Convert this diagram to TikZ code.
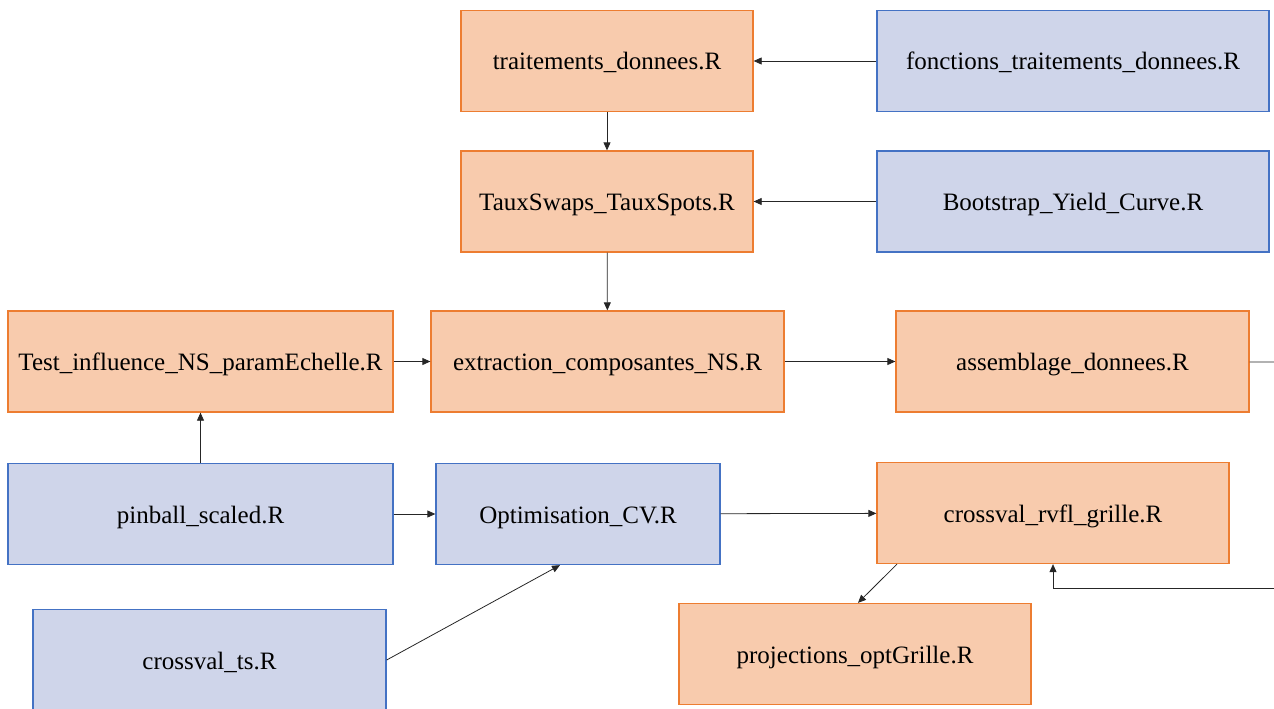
\documentclass[tikz,border=0pt]{standalone}
\usepackage{fontspec}
\setmainfont{Liberation Serif}
\usetikzlibrary{arrows.meta}
\definecolor{orfill}{HTML}{F8CBAD}
\definecolor{ordraw}{HTML}{ED7D31}
\definecolor{blfill}{HTML}{CFD5EA}
\definecolor{bldraw}{HTML}{4472C4}
\tikzset{
 orbox/.style={draw=ordraw,fill=orfill,line width=1.3pt,minimum height=101pt,inner sep=0pt,text height=24pt,text depth=6pt},
 blbox/.style={draw=bldraw,fill=blfill,line width=1.3pt,minimum height=101pt,inner sep=0pt,text height=24pt,text depth=6pt},
 fl/.style={-{Triangle[length=8pt,width=7pt]},line width=0.8pt,black!85}
}
\begin{document}
\begin{tikzpicture}[x=1pt,y=-1pt]
\fontsize{25}{30}\selectfont
\useasboundingbox (0,0) rectangle (1274,709);
\clip (0,0) rectangle (1274,709);

\node[orbox,minimum width=292pt] (trt) at (607,61) {traitements\_donnees.R};
\node[blbox,minimum width=392pt] (fonc) at (1073,61) {fonctions\_traitements\_donnees.R};
\node[orbox,minimum width=292pt] (taux) at (607,201.5) {TauxSwaps\_TauxSpots.R};
\node[blbox,minimum width=392pt] (boot) at (1073,201.5) {Bootstrap\_Yield\_Curve.R};

\node[orbox,minimum width=385pt] (test) at (200.5,361.5) {Test\_influence\_NS\_paramEchelle.R};
\node[orbox,minimum width=353pt] (extr) at (607.5,361.5) {extraction\_composantes\_NS.R};
\node[orbox,minimum width=353pt] (assem) at (1072.5,361.5) {assemblage\_donnees.R};

\node[blbox,minimum width=385pt] (pinb) at (200.5,514) {pinball\_scaled.R};
\node[blbox,minimum width=284pt] (optim) at (578,514) {Optimisation\_CV.R};
\node[orbox,minimum width=352pt] (rvfl) at (1053,513) {crossval\_rvfl\_grille.R};

\node[blbox,minimum width=353pt] (cvts) at (209.5,660) {crossval\_ts.R};
\node[orbox,minimum width=352pt] (proj) at (855,654) {projections\_optGrille.R};

\coordinate (sortie) at (1274,362);
\coordinate (retour) at (1274,588);

\draw[fl] (fonc) -- (trt);
\draw[fl] (trt) -- (taux);
\draw[fl] (boot) -- (taux);
\draw[fl] (taux) -- (extr);
\draw[fl] (test) -- (extr);
\draw[fl] (extr) -- (assem);
\draw[line width=0.8pt,black!85] (assem) -- (sortie);
\draw[fl] (pinb.north) -- (test.south);
\draw[fl] (pinb) -- (optim);
\draw[fl] (optim) -- (rvfl);
\draw[fl] (cvts.east) -- ([xshift=-18pt]optim.south);
\draw[fl] ([xshift=-156pt]rvfl.south) -- ([xshift=3pt]proj.north);
\draw[fl] (retour) -| (rvfl.south);
\end{tikzpicture}
\end{document}
